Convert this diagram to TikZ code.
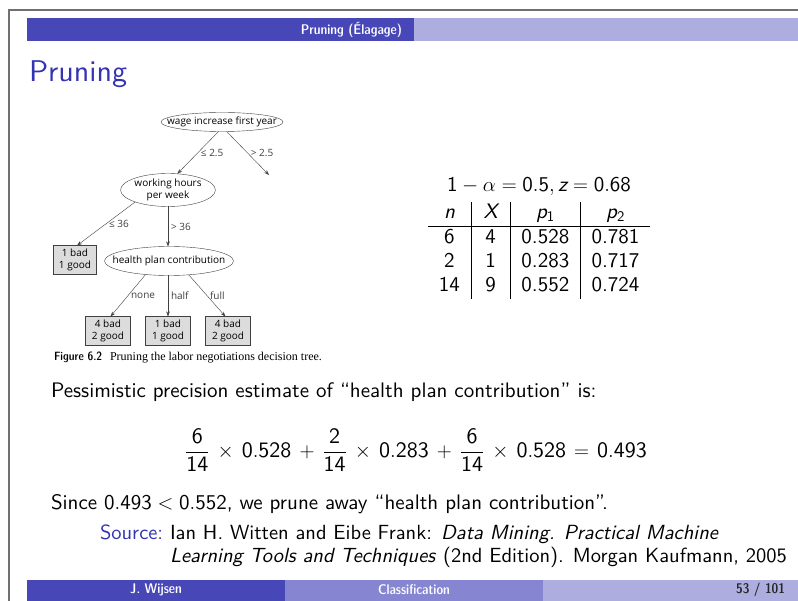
\documentclass[tikz,border=0pt]{standalone}
\usepackage{fontspec}
\usepackage{array}
\setsansfont{lmsans10-regular.otf}[BoldFont=lmsans10-bold.otf, ItalicFont=lmsans10-oblique.otf]
\newfontfamily\barfont{lmsansdemicond10-regular.otf}
\newfontfamily\treefont{Open Sans}
\newfontfamily\capserif{Liberation Serif}
\usetikzlibrary{shapes.geometric, arrows.meta, positioning}
\definecolor{structure}{HTML}{3333B3}
\definecolor{bardark}{HTML}{4747B7}
\definecolor{barmid}{HTML}{8585D1}
\definecolor{barlight}{HTML}{ADADE0}
\definecolor{framegray}{HTML}{707070}
\definecolor{treegray}{HTML}{404040}
\definecolor{leafgray}{HTML}{DCDCDC}
\newcommand\widelabel[1]{\makebox[0pt]{#1}}
\newcommand\mv[1]{\mbox{\sffamily\itshape #1}}
\newcolumntype{C}[1]{>{\centering\arraybackslash}p{#1}}

\begin{document}
\begin{tikzpicture}[
    x=1pt, y=-1pt,
    every node/.style = {inner sep=0pt, outer sep=0pt},
    bodytext/.style = {anchor=base west, font=\sffamily\fontsize{21}{25}\selectfont},
    srctext/.style = {anchor=base west, font=\sffamily\fontsize{20.5}{23}\selectfont},
    bartext/.style = {font=\barfont\fontsize{14}{16}\selectfont, text=white},
    cond/.style = {ellipse, draw=treegray, thin, fill=white, align=center,
                   font=\treefont\fontsize{10}{11.5}\selectfont},
    leaf/.style = {rectangle, draw=treegray, thin, fill=leafgray, align=center,
                   minimum width=45pt, minimum height=29pt,
                   font=\treefont\fontsize{10}{11.5}\selectfont},
    tarrow/.style = {-{Stealth[length=5pt, width=3.5pt]}, treegray, thin},
    tlabel/.style = {pos=.5, right=3pt, font=\treefont\fontsize{10}{11.5}\selectfont}
  ]
    \useasboundingbox (0,0) rectangle (798,601);

    % Frame and bars
    \draw[framegray, line width=1.5pt] (9,601) -- (9,10) -- (798,10);
    \fill[bardark] (27,18) rectangle (414,41);
    \fill[barlight] (414,18) rectangle (798,41);
    \node[bartext, anchor=east] (head) at (402,29.5) {Pruning (Élagage)};
    \fill[bardark] (27,580) rectangle (285,601);
    \fill[barmid] (285,580) rectangle (543,601);
    \fill[barlight] (543,580) rectangle (798,601);
    \node[bartext] (author) at (156,590) {J. Wijsen};
    \node[bartext] (topic) at (414,590) {Classification};
    \node[bartext, text=black!85, anchor=east] (page) at (785,590) {53 / 101};

    % Title
    \node[anchor=base west, text=structure, font=\sffamily\fontsize{30}{36}\selectfont] (title) at (29,82) {Pruning};

    % Tree
    \node[cond, minimum width=122pt, minimum height=19pt] (wage) at (222,122) {\widelabel{wage increase first year}};
    \node[cond, minimum width=92pt, minimum height=33pt] (hours) at (168,190) {working hours\\per week};
    \node[cond, minimum width=129pt, minimum height=29pt] (health) at (169,261) {\widelabel{health plan contribution}};
    \node[leaf, minimum width=43pt] (leafA) at (75,260) {1 bad\\1 good};
    \node[leaf] (leafB) at (108,331) {4 bad\\2 good};
    \node[leaf, right=15pt of leafB] (leafC) {1 bad\\1 good};
    \node[leaf, right=15pt of leafC] (leafD) {4 bad\\2 good};
    \coordinate (wagehigh) at (269,175);

    \draw[tarrow] (wage.250) -- (hours.60) node[tlabel] {≤ 2.5};
    \draw[tarrow] (wage.296) -- (wagehigh) node[tlabel] {> 2.5};
    \draw[tarrow] (hours.200) -- (leafA.82) node[tlabel] {≤ 36};
    \draw[tarrow] (hours.south) -- (hours.south |- health.north) node[tlabel] {> 36};
    \draw[tarrow] (health.210) -- (leafB.80) node[tlabel] {none};
    \draw[tarrow] (leafC.north |- health.south) -- (leafC.north) node[tlabel] {half};
    \draw[tarrow] (health.325) -- (leafD.100) node[tlabel] {full};

    \node[anchor=base west, font=\fontsize{12}{14}\selectfont] (caption) at (54,361)
      {{\barfont Figure 6.2}\ \ {\capserif Pruning the labor negotiations decision tree.}};

    % Table
    \node[anchor=north, font=\sffamily\fontsize{21}{24}\selectfont] (table) at (539,175) {%
      \setlength{\tabcolsep}{0pt}\setlength{\arrayrulewidth}{0.7pt}%
      \begin{tabular}{C{43pt}|C{38pt}|C{70pt}|C{69pt}}
        \multicolumn{4}{c}{$\mathsf{1}-\alpha=\mathsf{0.5},\mv{z}=\mathsf{0.68}$}\\[3pt]
        \mv{n} & \mv{X} & \mv{p}$_\mathsf{1}$ & \mv{p}$_\mathsf{2}$\\ \hline
        6 & 4 & 0.528 & 0.781\\
        2 & 1 & 0.283 & 0.717\\
        14 & 9 & 0.552 & 0.724
      \end{tabular}};

    % Text
    \node[bodytext] (pess) at (51,398) {Pessimistic precision estimate of “health plan contribution” is:};
    \node[font=\sffamily\fontsize{22}{26}\selectfont] (estimate) at (416,450)
      {\medmuskip=7mu\thickmuskip=7mu
       $\displaystyle\frac{\mathsf{6}}{\mathsf{14}}\times\mathsf{0.528}+\frac{\mathsf{2}}{\mathsf{14}}\times\mathsf{0.283}+\frac{\mathsf{6}}{\mathsf{14}}\times\mathsf{0.528}=\mathsf{0.493}$};
    \node[bodytext] (since) at (51,509) {Since $\mathsf{0.493}<\mathsf{0.552}$, we prune away “health plan contribution”.};
    \node[srctext, text=structure] (source) at (100,539) {Source:};
    \node[srctext] (refA) at (170,539) {Ian H. Witten and Eibe Frank: \textit{Data Mining. Practical Machine}};
    \node[srctext] (refB) at (170,562) {\textit{Learning Tools and Techniques} (2nd Edition). Morgan Kaufmann, 2005};

  \end{tikzpicture}
\end{document}
